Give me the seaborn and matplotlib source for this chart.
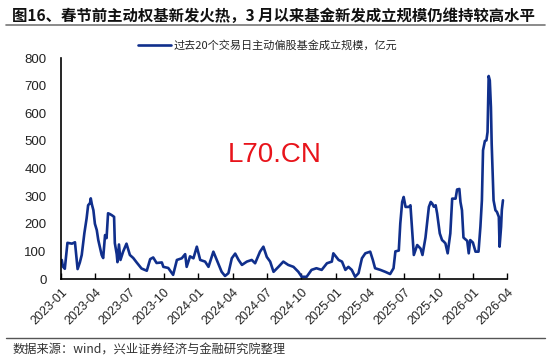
import matplotlib
matplotlib.use("Agg")
import matplotlib.pyplot as plt
import matplotlib.dates as mdates
from matplotlib.lines import Line2D
import pandas as pd
import seaborn as sns

# 过去20个交易日主动偏股基金成立规模（亿元），
dates = [
    "2023-01-03", "2023-01-06", "2023-01-11", "2023-01-18", "2023-01-30", "2023-02-07",
    "2023-02-14", "2023-02-20", "2023-02-25", "2023-03-04", "2023-03-10", "2023-03-14",
    "2023-03-19", "2023-03-21", "2023-03-24", "2023-03-28", "2023-04-01", "2023-04-06",
    "2023-04-10", "2023-04-14", "2023-04-19", "2023-04-23", "2023-04-28", "2023-05-02",
    "2023-05-06", "2023-05-11", "2023-05-16", "2023-05-22", "2023-05-24", "2023-05-29",
    "2023-05-31", "2023-06-04", "2023-06-08", "2023-06-15", "2023-06-24", "2023-07-03",
    "2023-07-12", "2023-07-21", "2023-08-03", "2023-08-17", "2023-08-26", "2023-09-03",
    "2023-09-12", "2023-09-26", "2023-09-30", "2023-10-13", "2023-10-26", "2023-11-05",
    "2023-11-18", "2023-11-27", "2023-12-01", "2023-12-10", "2023-12-19", "2023-12-28",
    "2024-01-06", "2024-01-19", "2024-01-28", "2024-02-10", "2024-02-19", "2024-03-03",
    "2024-03-12", "2024-03-21", "2024-03-30", "2024-04-08", "2024-04-17", "2024-04-26",
    "2024-05-09", "2024-05-22", "2024-05-31", "2024-06-13", "2024-06-22", "2024-07-01",
    "2024-07-10", "2024-07-19", "2024-08-01", "2024-08-14", "2024-08-27", "2024-09-10",
    "2024-09-23", "2024-10-02", "2024-10-15", "2024-10-28", "2024-11-10", "2024-11-24",
    "2024-12-08", "2024-12-21", "2024-12-25", "2025-01-08", "2025-01-17", "2025-01-26",
    "2025-02-03", "2025-02-12", "2025-02-21", "2025-03-02", "2025-03-11", "2025-03-20",
    "2025-04-02", "2025-04-09", "2025-04-15", "2025-04-29", "2025-05-12", "2025-05-25",
    "2025-06-03", "2025-06-08", "2025-06-17", "2025-06-21", "2025-06-26", "2025-06-30",
    "2025-07-05", "2025-07-14", "2025-07-18", "2025-07-23", "2025-07-27", "2025-08-05",
    "2025-08-14", "2025-08-19", "2025-08-27", "2025-09-05", "2025-09-10", "2025-09-14",
    "2025-09-18", "2025-09-23", "2025-09-27", "2025-10-04", "2025-10-10", "2025-10-15",
    "2025-10-19", "2025-10-25", "2025-11-01", "2025-11-06", "2025-11-15", "2025-11-19",
    "2025-11-25", "2025-11-28", "2025-12-02", "2025-12-06", "2025-12-16", "2025-12-20",
    "2025-12-24", "2025-12-31", "2026-01-07", "2026-01-15", "2026-01-20", "2026-01-24",
    "2026-01-27", "2026-02-01", "2026-02-05", "2026-02-08", "2026-02-11", "2026-02-14",
    "2026-02-17", "2026-02-19", "2026-02-24", "2026-03-01", "2026-03-05", "2026-03-10",
    "2026-03-12", "2026-03-16", "2026-03-18", "2026-03-21",
]
values = [
    69, 45, 37, 131, 128, 133,
    36, 60, 87, 166, 220, 267,
    275, 292, 270, 249, 200, 177,
    141, 117, 87, 76, 159, 148,
    238, 235, 231, 225, 130, 90,
    61, 125, 69, 99, 128, 87,
    76, 60, 38, 30, 72, 78,
    58, 60, 44, 40, 15, 69,
    75, 90, 44, 82, 75, 117,
    69, 63, 44, 99, 69, 26,
    11, 21, 75, 92, 69, 51,
    63, 69, 57, 99, 117, 80,
    63, 26, 44, 63, 51, 44,
    26, 8, 8, 33, 39, 33,
    57, 63, 93, 69, 63, 33,
    44, 33, 8, 21, 75, 93,
    99, 69, 39, 33, 26, 18,
    39, 100, 103, 201, 279, 297,
    261, 261, 267, 165, 87, 123,
    110, 87, 150, 261, 279, 273,
    262, 267, 237, 165, 141, 135,
    129, 93, 165, 291, 291, 324,
    326, 279, 249, 150, 138, 93,
    141, 132, 99, 99, 189, 285,
    466, 500, 502, 532, 735, 719,
    622, 490, 285, 249, 243, 225,
    117, 189, 250, 285,
]

title = "图16、春节前主动权基新发火热，3 月以来基金新发成立规模仍维持较高水平"
series_name = "过去20个交易日主动偏股基金成立规模，亿元"
source = "数据来源：wind，兴业证券经济与金融研究院整理"
y_ticks = [0, 100, 200, 300, 400, 500, 600, 700, 800]

df = pd.DataFrame({"date": pd.to_datetime(dates), "value": values})

sns.set_theme(style="white")
plt.rcParams["font.family"] = ["Liberation Sans", "Noto Sans CJK SC", "DejaVu Sans"]
cjk = ["Noto Sans CJK SC", "DejaVu Sans"]
navy = "#102f8c"

fig = plt.figure(figsize=(5.5, 3.64), dpi=100)
ax = fig.add_axes([0.111, 0.2335, 0.811, 0.607])

sns.lineplot(data=df, x="date", y="value", ax=ax, color=navy, linewidth=1.9)

ax.set_xlim(pd.Timestamp("2023-01-01"), pd.Timestamp("2026-04-01"))
ax.set_ylim(0, 800)
ax.set_yticks(y_ticks)
ax.xaxis.set_major_locator(mdates.MonthLocator(bymonth=[1, 4, 7, 10]))
ax.xaxis.set_major_formatter(mdates.DateFormatter("%Y-%m"))
ax.set_xlabel("")
ax.set_ylabel("")
for lab in ax.get_xticklabels():
    lab.set_rotation(45)
    lab.set_ha("right")
    lab.set_rotation_mode("anchor")
ax.tick_params(axis="x", direction="in", length=4, width=1, color="black",
               labelsize=9, pad=5, bottom=True)
ax.tick_params(axis="y", length=0, labelsize=9.5, pad=10.5)
for lab in ax.get_xticklabels() + ax.get_yticklabels():
    lab.set_color("#222222")

sns.despine(ax=ax)
for side in ["left", "bottom"]:
    ax.spines[side].set_color("black")
    ax.spines[side].set_linewidth(1.2)

handle = Line2D([], [], color=navy, linewidth=1.9)
fig.legend([handle], [series_name], loc="center", bbox_to_anchor=(0.486, 0.876),
           frameon=False, handlelength=3.0, handletextpad=0.2,
           prop={"family": cjk, "size": 8})

fig.text(0.022, 0.957, title, fontsize=11.1, fontweight="bold", family=cjk,
         va="center", ha="left", color="#111111")
fig.add_artist(Line2D([0.01, 0.99], [0.931, 0.931], color="#777777", linewidth=1.2))
fig.add_artist(Line2D([0.01, 0.99], [0.072, 0.072], color="#555555", linewidth=1.0))
fig.text(0.022, 0.038, source, fontsize=8.8, family=cjk, va="center", ha="left",
         color="#333333")

# watermark in the middle of the reference
fig.text(0.5, 0.574, "L70.CN", fontsize=20, color="#e8141b", ha="center", va="center",
         family=["Liberation Sans", "DejaVu Sans"])

fig.savefig("out.png", dpi=100)
